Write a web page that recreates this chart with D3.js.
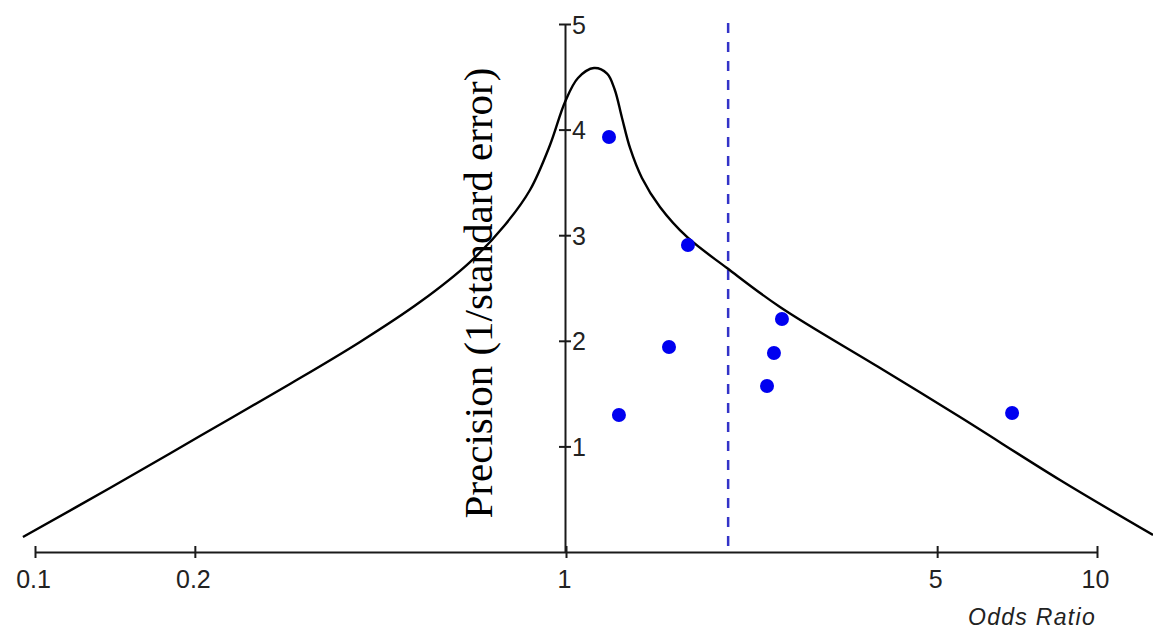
<!DOCTYPE html>
<html>
<head>
<meta charset="utf-8">
<script src="https://cdn.jsdelivr.net/npm/d3@7"></script>
<style>
  html, body { margin: 0; padding: 0; background: #fff; }
  svg { display: block; }
  .axis path, .axis line { stroke: #1a1a1a; stroke-width: 2; }
  .axis text { font-family: "Liberation Sans", Arial, sans-serif; font-size: 25px; fill: #222; }
</style>
</head>
<body>
<div id="chart"></div>
<script>
// funnel plot: precision against odds ratio (log scale)

// studies
const studyOR = [1.205, 1.697, 1.563, 1.258, 2.551, 2.464, 2.391, 6.92];
const studyPrecision = [3.93, 2.907, 1.941, 1.297, 2.206, 1.884, 1.572, 1.316];

// contour curve
const curveOR = [0.0949, 0.1384, 0.2045, 0.3021, 0.4093, 0.5309, 0.6595, 0.7674, 0.8554,
  0.933, 0.9957, 1.0534, 1.129, 1.195, 1.235, 1.275, 1.32, 1.39, 1.503, 1.69, 2.01, 2.529,
  3.904, 5.521, 8.517, 12.75];
const curvePrecision = [0.142, 0.606, 1.098, 1.591, 1.989, 2.367, 2.746, 3.097, 3.428,
  3.854, 4.261, 4.489, 4.583, 4.53, 4.38, 4.11, 3.826, 3.542, 3.267, 2.983, 2.689, 2.32,
  1.742, 1.278, 0.682, 0.161];

// pooled estimate (dashed line)
const pooledOR = 2.02;

const xTicks = [0.1, 0.2, 1, 5, 10];
const yTicks = [1, 2, 3, 4, 5];

const width = 1153, height = 629;

const svg = d3.select("#chart").append("svg")
  .attr("width", width)
  .attr("height", height);

const x = d3.scaleLog().domain([0.1, 10]).range([35, 1097]);
const y = d3.scaleLinear().domain([0, 5]).range([552, 24]);

// x axis
const xAxis = svg.append("g")
  .attr("class", "axis")
  .attr("transform", `translate(0,${y(0)})`)
  .call(d3.axisBottom(x).tickValues(xTicks).tickFormat(d => String(d)).tickSizeOuter(0));
xAxis.selectAll(".tick line").attr("y1", -6).attr("y2", 6);
xAxis.selectAll(".tick text").attr("y", 36).attr("dy", 0).attr("dx", -2);

// y axis at OR = 1
const yAxis = svg.append("g")
  .attr("class", "axis")
  .attr("transform", `translate(${x(1) - 1},0)`)
  .call(d3.axisRight(y).tickValues(yTicks).tickFormat(d => String(d)).tickSizeOuter(0));
yAxis.selectAll(".tick line").attr("x1", -6).attr("x2", 6);
yAxis.selectAll(".tick text").attr("x", 7).attr("dy", "0.36em");

// axis titles
svg.append("text")
  .attr("transform", "translate(492,293)rotate(-90)")
  .attr("text-anchor", "middle")
  .style("font-family", "'Liberation Serif', 'Times New Roman', serif")
  .style("font-size", "41px")
  .attr("fill", "#000")
  .text("Precision (1/standard error)");

svg.append("text")
  .attr("x", 1096)
  .attr("y", 625)
  .attr("text-anchor", "end")
  .style("font-family", "'Liberation Sans', Arial, sans-serif")
  .style("font-size", "23px")
  .style("font-style", "italic")
  .style("letter-spacing", "1.3px")
  .attr("fill", "#222")
  .text("Odds Ratio");

// dashed pooled line
svg.append("line")
  .attr("x1", x(pooledOR))
  .attr("x2", x(pooledOR))
  .attr("y1", y(5) - 1)
  .attr("y2", y(0))
  .attr("stroke", "#3333c8")
  .attr("stroke-width", 2.5)
  .attr("stroke-dasharray", "10,9");

// curve
const curvePts = curveOR.map((d, i) => [d, curvePrecision[i]]);
const line = d3.line()
  .x(d => x(d[0]))
  .y(d => y(d[1]))
  .curve(d3.curveCatmullRom.alpha(0.5));
svg.append("path")
  .datum(curvePts)
  .attr("d", line)
  .attr("fill", "none")
  .attr("stroke", "#000")
  .attr("stroke-width", 2.4);

// study points
svg.selectAll(".pt")
  .data(studyOR.map((d, i) => [d, studyPrecision[i]]))
  .enter()
  .append("circle")
  .attr("class", "pt")
  .attr("cx", d => x(d[0]))
  .attr("cy", d => y(d[1]))
  .attr("r", 7)
  .attr("fill", "#0000f0");
</script>
</body>
</html>
